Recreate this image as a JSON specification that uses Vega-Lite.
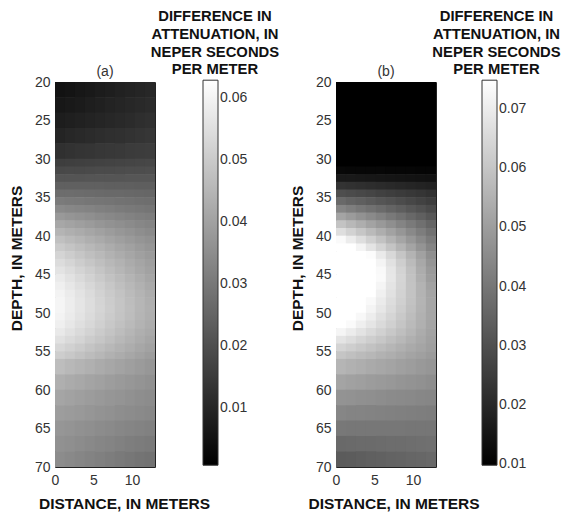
{
  "$schema": "https://vega.github.io/schema/vega-lite/v6.json",
  "padding": {"left": 8, "top": 8, "right": 4, "bottom": 2},
  "config": {
    "font": "Liberation Sans",
    "view": {"stroke": "#222222", "strokeWidth": 1},
    "axis": {"grid": false, "ticks": false, "domain": false, "labelFontSize": 14, "labelColor": "#333333", "labelPadding": 5, "titleFontSize": 15.5, "titleFontWeight": "bold", "titleColor": "#111111"},
    "legend": {"titleFontSize": 14.8, "titleFontWeight": "bold", "titleColor": "#111111", "titleAlign": "center", "titleAnchor": "middle", "titleLineHeight": 17.8, "titlePadding": 3, "titleLimit": 300, "labelFontSize": 14, "labelColor": "#333333", "labelOffset": 4, "gradientStrokeColor": "#333333", "gradientStrokeWidth": 1, "padding": 0},
    "title": {"fontSize": 14, "fontWeight": "normal", "color": "#333333"}
  },
  "datasets": {
    "a": [
      {"x":0.65,"d0":20,"d1":22,"v":0.0050},{"x":1.95,"d0":20,"d1":22,"v":0.0056},{"x":3.25,"d0":20,"d1":22,"v":0.0062},{"x":4.55,"d0":20,"d1":22,"v":0.0069},{"x":5.85,"d0":20,"d1":22,"v":0.0075},{"x":7.15,"d0":20,"d1":22,"v":0.0081},{"x":8.45,"d0":20,"d1":22,"v":0.0087},{"x":9.75,"d0":20,"d1":22,"v":0.0092},{"x":11.05,"d0":20,"d1":22,"v":0.0098},{"x":12.35,"d0":20,"d1":22,"v":0.0103},
      {"x":0.65,"d0":22,"d1":24,"v":0.0063},{"x":1.95,"d0":22,"d1":24,"v":0.0068},{"x":3.25,"d0":22,"d1":24,"v":0.0074},{"x":4.55,"d0":22,"d1":24,"v":0.0080},{"x":5.85,"d0":22,"d1":24,"v":0.0086},{"x":7.15,"d0":22,"d1":24,"v":0.0092},{"x":8.45,"d0":22,"d1":24,"v":0.0097},{"x":9.75,"d0":22,"d1":24,"v":0.0102},{"x":11.05,"d0":22,"d1":24,"v":0.0108},{"x":12.35,"d0":22,"d1":24,"v":0.0112},
      {"x":0.65,"d0":24,"d1":26,"v":0.0077},{"x":1.95,"d0":24,"d1":26,"v":0.0082},{"x":3.25,"d0":24,"d1":26,"v":0.0087},{"x":4.55,"d0":24,"d1":26,"v":0.0093},{"x":5.85,"d0":24,"d1":26,"v":0.0098},{"x":7.15,"d0":24,"d1":26,"v":0.0103},{"x":8.45,"d0":24,"d1":26,"v":0.0108},{"x":9.75,"d0":24,"d1":26,"v":0.0113},{"x":11.05,"d0":24,"d1":26,"v":0.0118},{"x":12.35,"d0":24,"d1":26,"v":0.0123},
      {"x":0.65,"d0":26,"d1":28,"v":0.0096},{"x":1.95,"d0":26,"d1":28,"v":0.0101},{"x":3.25,"d0":26,"d1":28,"v":0.0106},{"x":4.55,"d0":26,"d1":28,"v":0.0111},{"x":5.85,"d0":26,"d1":28,"v":0.0116},{"x":7.15,"d0":26,"d1":28,"v":0.0121},{"x":8.45,"d0":26,"d1":28,"v":0.0125},{"x":9.75,"d0":26,"d1":28,"v":0.0129},{"x":11.05,"d0":26,"d1":28,"v":0.0134},{"x":12.35,"d0":26,"d1":28,"v":0.0138},
      {"x":0.65,"d0":28,"d1":30,"v":0.0125},{"x":1.95,"d0":28,"d1":30,"v":0.0129},{"x":3.25,"d0":28,"d1":30,"v":0.0133},{"x":4.55,"d0":28,"d1":30,"v":0.0136},{"x":5.85,"d0":28,"d1":30,"v":0.0140},{"x":7.15,"d0":28,"d1":30,"v":0.0144},{"x":8.45,"d0":28,"d1":30,"v":0.0147},{"x":9.75,"d0":28,"d1":30,"v":0.0150},{"x":11.05,"d0":28,"d1":30,"v":0.0154},{"x":12.35,"d0":28,"d1":30,"v":0.0157},
      {"x":0.65,"d0":30,"d1":31,"v":0.0158},{"x":1.95,"d0":30,"d1":31,"v":0.0160},{"x":3.25,"d0":30,"d1":31,"v":0.0163},{"x":4.55,"d0":30,"d1":31,"v":0.0165},{"x":5.85,"d0":30,"d1":31,"v":0.0168},{"x":7.15,"d0":30,"d1":31,"v":0.0170},{"x":8.45,"d0":30,"d1":31,"v":0.0173},{"x":9.75,"d0":30,"d1":31,"v":0.0175},{"x":11.05,"d0":30,"d1":31,"v":0.0178},{"x":12.35,"d0":30,"d1":31,"v":0.0180},
      {"x":0.65,"d0":31,"d1":32,"v":0.0183},{"x":1.95,"d0":31,"d1":32,"v":0.0185},{"x":3.25,"d0":31,"d1":32,"v":0.0186},{"x":4.55,"d0":31,"d1":32,"v":0.0188},{"x":5.85,"d0":31,"d1":32,"v":0.0190},{"x":7.15,"d0":31,"d1":32,"v":0.0191},{"x":8.45,"d0":31,"d1":32,"v":0.0193},{"x":9.75,"d0":31,"d1":32,"v":0.0194},{"x":11.05,"d0":31,"d1":32,"v":0.0196},{"x":12.35,"d0":31,"d1":32,"v":0.0197},
      {"x":0.65,"d0":32,"d1":33,"v":0.0212},{"x":1.95,"d0":32,"d1":33,"v":0.0213},{"x":3.25,"d0":32,"d1":33,"v":0.0213},{"x":4.55,"d0":32,"d1":33,"v":0.0214},{"x":5.85,"d0":32,"d1":33,"v":0.0214},{"x":7.15,"d0":32,"d1":33,"v":0.0215},{"x":8.45,"d0":32,"d1":33,"v":0.0215},{"x":9.75,"d0":32,"d1":33,"v":0.0216},{"x":11.05,"d0":32,"d1":33,"v":0.0216},{"x":12.35,"d0":32,"d1":33,"v":0.0217},
      {"x":0.65,"d0":33,"d1":34,"v":0.0242},{"x":1.95,"d0":33,"d1":34,"v":0.0242},{"x":3.25,"d0":33,"d1":34,"v":0.0241},{"x":4.55,"d0":33,"d1":34,"v":0.0240},{"x":5.85,"d0":33,"d1":34,"v":0.0240},{"x":7.15,"d0":33,"d1":34,"v":0.0239},{"x":8.45,"d0":33,"d1":34,"v":0.0238},{"x":9.75,"d0":33,"d1":34,"v":0.0238},{"x":11.05,"d0":33,"d1":34,"v":0.0237},{"x":12.35,"d0":33,"d1":34,"v":0.0237},
      {"x":0.65,"d0":34,"d1":35,"v":0.0274},{"x":1.95,"d0":34,"d1":35,"v":0.0272},{"x":3.25,"d0":34,"d1":35,"v":0.0270},{"x":4.55,"d0":34,"d1":35,"v":0.0268},{"x":5.85,"d0":34,"d1":35,"v":0.0266},{"x":7.15,"d0":34,"d1":35,"v":0.0264},{"x":8.45,"d0":34,"d1":35,"v":0.0262},{"x":9.75,"d0":34,"d1":35,"v":0.0260},{"x":11.05,"d0":34,"d1":35,"v":0.0258},{"x":12.35,"d0":34,"d1":35,"v":0.0256},
      {"x":0.65,"d0":35,"d1":36,"v":0.0307},{"x":1.95,"d0":35,"d1":36,"v":0.0303},{"x":3.25,"d0":35,"d1":36,"v":0.0300},{"x":4.55,"d0":35,"d1":36,"v":0.0296},{"x":5.85,"d0":35,"d1":36,"v":0.0292},{"x":7.15,"d0":35,"d1":36,"v":0.0289},{"x":8.45,"d0":35,"d1":36,"v":0.0285},{"x":9.75,"d0":35,"d1":36,"v":0.0282},{"x":11.05,"d0":35,"d1":36,"v":0.0278},{"x":12.35,"d0":35,"d1":36,"v":0.0275},
      {"x":0.65,"d0":36,"d1":37,"v":0.0343},{"x":1.95,"d0":36,"d1":37,"v":0.0337},{"x":3.25,"d0":36,"d1":37,"v":0.0332},{"x":4.55,"d0":36,"d1":37,"v":0.0326},{"x":5.85,"d0":36,"d1":37,"v":0.0320},{"x":7.15,"d0":36,"d1":37,"v":0.0314},{"x":8.45,"d0":36,"d1":37,"v":0.0308},{"x":9.75,"d0":36,"d1":37,"v":0.0303},{"x":11.05,"d0":36,"d1":37,"v":0.0298},{"x":12.35,"d0":36,"d1":37,"v":0.0293},
      {"x":0.65,"d0":37,"d1":38,"v":0.0379},{"x":1.95,"d0":37,"d1":38,"v":0.0371},{"x":3.25,"d0":37,"d1":38,"v":0.0363},{"x":4.55,"d0":37,"d1":38,"v":0.0355},{"x":5.85,"d0":37,"d1":38,"v":0.0347},{"x":7.15,"d0":37,"d1":38,"v":0.0339},{"x":8.45,"d0":37,"d1":38,"v":0.0332},{"x":9.75,"d0":37,"d1":38,"v":0.0324},{"x":11.05,"d0":37,"d1":38,"v":0.0317},{"x":12.35,"d0":37,"d1":38,"v":0.0311},
      {"x":0.65,"d0":38,"d1":39,"v":0.0415},{"x":1.95,"d0":38,"d1":39,"v":0.0405},{"x":3.25,"d0":38,"d1":39,"v":0.0395},{"x":4.55,"d0":38,"d1":39,"v":0.0385},{"x":5.85,"d0":38,"d1":39,"v":0.0374},{"x":7.15,"d0":38,"d1":39,"v":0.0364},{"x":8.45,"d0":38,"d1":39,"v":0.0355},{"x":9.75,"d0":38,"d1":39,"v":0.0346},{"x":11.05,"d0":38,"d1":39,"v":0.0337},{"x":12.35,"d0":38,"d1":39,"v":0.0328},
      {"x":0.65,"d0":39,"d1":40,"v":0.0447},{"x":1.95,"d0":39,"d1":40,"v":0.0435},{"x":3.25,"d0":39,"d1":40,"v":0.0423},{"x":4.55,"d0":39,"d1":40,"v":0.0411},{"x":5.85,"d0":39,"d1":40,"v":0.0399},{"x":7.15,"d0":39,"d1":40,"v":0.0387},{"x":8.45,"d0":39,"d1":40,"v":0.0376},{"x":9.75,"d0":39,"d1":40,"v":0.0365},{"x":11.05,"d0":39,"d1":40,"v":0.0354},{"x":12.35,"d0":39,"d1":40,"v":0.0344},
      {"x":0.65,"d0":40,"d1":41,"v":0.0475},{"x":1.95,"d0":40,"d1":41,"v":0.0461},{"x":3.25,"d0":40,"d1":41,"v":0.0448},{"x":4.55,"d0":40,"d1":41,"v":0.0434},{"x":5.85,"d0":40,"d1":41,"v":0.0421},{"x":7.15,"d0":40,"d1":41,"v":0.0407},{"x":8.45,"d0":40,"d1":41,"v":0.0395},{"x":9.75,"d0":40,"d1":41,"v":0.0383},{"x":11.05,"d0":40,"d1":41,"v":0.0371},{"x":12.35,"d0":40,"d1":41,"v":0.0360},
      {"x":0.65,"d0":41,"d1":42,"v":0.0500},{"x":1.95,"d0":41,"d1":42,"v":0.0485},{"x":3.25,"d0":41,"d1":42,"v":0.0470},{"x":4.55,"d0":41,"d1":42,"v":0.0455},{"x":5.85,"d0":41,"d1":42,"v":0.0441},{"x":7.15,"d0":41,"d1":42,"v":0.0426},{"x":8.45,"d0":41,"d1":42,"v":0.0412},{"x":9.75,"d0":41,"d1":42,"v":0.0399},{"x":11.05,"d0":41,"d1":42,"v":0.0385},{"x":12.35,"d0":41,"d1":42,"v":0.0373},
      {"x":0.65,"d0":42,"d1":43,"v":0.0523},{"x":1.95,"d0":42,"d1":43,"v":0.0507},{"x":3.25,"d0":42,"d1":43,"v":0.0490},{"x":4.55,"d0":42,"d1":43,"v":0.0474},{"x":5.85,"d0":42,"d1":43,"v":0.0458},{"x":7.15,"d0":42,"d1":43,"v":0.0442},{"x":8.45,"d0":42,"d1":43,"v":0.0427},{"x":9.75,"d0":42,"d1":43,"v":0.0412},{"x":11.05,"d0":42,"d1":43,"v":0.0397},{"x":12.35,"d0":42,"d1":43,"v":0.0384},
      {"x":0.65,"d0":43,"d1":44,"v":0.0543},{"x":1.95,"d0":43,"d1":44,"v":0.0526},{"x":3.25,"d0":43,"d1":44,"v":0.0508},{"x":4.55,"d0":43,"d1":44,"v":0.0491},{"x":5.85,"d0":43,"d1":44,"v":0.0474},{"x":7.15,"d0":43,"d1":44,"v":0.0456},{"x":8.45,"d0":43,"d1":44,"v":0.0440},{"x":9.75,"d0":43,"d1":44,"v":0.0424},{"x":11.05,"d0":43,"d1":44,"v":0.0409},{"x":12.35,"d0":43,"d1":44,"v":0.0394},
      {"x":0.65,"d0":44,"d1":45,"v":0.0561},{"x":1.95,"d0":44,"d1":45,"v":0.0543},{"x":3.25,"d0":44,"d1":45,"v":0.0524},{"x":4.55,"d0":44,"d1":45,"v":0.0506},{"x":5.85,"d0":44,"d1":45,"v":0.0487},{"x":7.15,"d0":44,"d1":45,"v":0.0469},{"x":8.45,"d0":44,"d1":45,"v":0.0452},{"x":9.75,"d0":44,"d1":45,"v":0.0435},{"x":11.05,"d0":44,"d1":45,"v":0.0418},{"x":12.35,"d0":44,"d1":45,"v":0.0403},
      {"x":0.65,"d0":45,"d1":46,"v":0.0577},{"x":1.95,"d0":45,"d1":46,"v":0.0558},{"x":3.25,"d0":45,"d1":46,"v":0.0538},{"x":4.55,"d0":45,"d1":46,"v":0.0519},{"x":5.85,"d0":45,"d1":46,"v":0.0500},{"x":7.15,"d0":45,"d1":46,"v":0.0481},{"x":8.45,"d0":45,"d1":46,"v":0.0463},{"x":9.75,"d0":45,"d1":46,"v":0.0446},{"x":11.05,"d0":45,"d1":46,"v":0.0428},{"x":12.35,"d0":45,"d1":46,"v":0.0413},
      {"x":0.65,"d0":46,"d1":47,"v":0.0590},{"x":1.95,"d0":46,"d1":47,"v":0.0571},{"x":3.25,"d0":46,"d1":47,"v":0.0551},{"x":4.55,"d0":46,"d1":47,"v":0.0531},{"x":5.85,"d0":46,"d1":47,"v":0.0512},{"x":7.15,"d0":46,"d1":47,"v":0.0492},{"x":8.45,"d0":46,"d1":47,"v":0.0474},{"x":9.75,"d0":46,"d1":47,"v":0.0456},{"x":11.05,"d0":46,"d1":47,"v":0.0438},{"x":12.35,"d0":46,"d1":47,"v":0.0422},
      {"x":0.65,"d0":47,"d1":48,"v":0.0599},{"x":1.95,"d0":47,"d1":48,"v":0.0579},{"x":3.25,"d0":47,"d1":48,"v":0.0560},{"x":4.55,"d0":47,"d1":48,"v":0.0540},{"x":5.85,"d0":47,"d1":48,"v":0.0520},{"x":7.15,"d0":47,"d1":48,"v":0.0500},{"x":8.45,"d0":47,"d1":48,"v":0.0482},{"x":9.75,"d0":47,"d1":48,"v":0.0464},{"x":11.05,"d0":47,"d1":48,"v":0.0446},{"x":12.35,"d0":47,"d1":48,"v":0.0430},
      {"x":0.65,"d0":48,"d1":49,"v":0.0604},{"x":1.95,"d0":48,"d1":49,"v":0.0584},{"x":3.25,"d0":48,"d1":49,"v":0.0565},{"x":4.55,"d0":48,"d1":49,"v":0.0545},{"x":5.85,"d0":48,"d1":49,"v":0.0525},{"x":7.15,"d0":48,"d1":49,"v":0.0505},{"x":8.45,"d0":48,"d1":49,"v":0.0487},{"x":9.75,"d0":48,"d1":49,"v":0.0469},{"x":11.05,"d0":48,"d1":49,"v":0.0451},{"x":12.35,"d0":48,"d1":49,"v":0.0434},
      {"x":0.65,"d0":49,"d1":50,"v":0.0604},{"x":1.95,"d0":49,"d1":50,"v":0.0585},{"x":3.25,"d0":49,"d1":50,"v":0.0565},{"x":4.55,"d0":49,"d1":50,"v":0.0545},{"x":5.85,"d0":49,"d1":50,"v":0.0526},{"x":7.15,"d0":49,"d1":50,"v":0.0506},{"x":8.45,"d0":49,"d1":50,"v":0.0488},{"x":9.75,"d0":49,"d1":50,"v":0.0470},{"x":11.05,"d0":49,"d1":50,"v":0.0452},{"x":12.35,"d0":49,"d1":50,"v":0.0436},
      {"x":0.65,"d0":50,"d1":51,"v":0.0599},{"x":1.95,"d0":50,"d1":51,"v":0.0580},{"x":3.25,"d0":50,"d1":51,"v":0.0561},{"x":4.55,"d0":50,"d1":51,"v":0.0541},{"x":5.85,"d0":50,"d1":51,"v":0.0522},{"x":7.15,"d0":50,"d1":51,"v":0.0502},{"x":8.45,"d0":50,"d1":51,"v":0.0485},{"x":9.75,"d0":50,"d1":51,"v":0.0467},{"x":11.05,"d0":50,"d1":51,"v":0.0449},{"x":12.35,"d0":50,"d1":51,"v":0.0433},
      {"x":0.65,"d0":51,"d1":52,"v":0.0590},{"x":1.95,"d0":51,"d1":52,"v":0.0571},{"x":3.25,"d0":51,"d1":52,"v":0.0552},{"x":4.55,"d0":51,"d1":52,"v":0.0533},{"x":5.85,"d0":51,"d1":52,"v":0.0514},{"x":7.15,"d0":51,"d1":52,"v":0.0495},{"x":8.45,"d0":51,"d1":52,"v":0.0478},{"x":9.75,"d0":51,"d1":52,"v":0.0461},{"x":11.05,"d0":51,"d1":52,"v":0.0444},{"x":12.35,"d0":51,"d1":52,"v":0.0428},
      {"x":0.65,"d0":52,"d1":53,"v":0.0576},{"x":1.95,"d0":52,"d1":53,"v":0.0557},{"x":3.25,"d0":52,"d1":53,"v":0.0539},{"x":4.55,"d0":52,"d1":53,"v":0.0521},{"x":5.85,"d0":52,"d1":53,"v":0.0503},{"x":7.15,"d0":52,"d1":53,"v":0.0485},{"x":8.45,"d0":52,"d1":53,"v":0.0468},{"x":9.75,"d0":52,"d1":53,"v":0.0452},{"x":11.05,"d0":52,"d1":53,"v":0.0435},{"x":12.35,"d0":52,"d1":53,"v":0.0421},
      {"x":0.65,"d0":53,"d1":54,"v":0.0556},{"x":1.95,"d0":53,"d1":54,"v":0.0539},{"x":3.25,"d0":53,"d1":54,"v":0.0523},{"x":4.55,"d0":53,"d1":54,"v":0.0505},{"x":5.85,"d0":53,"d1":54,"v":0.0489},{"x":7.15,"d0":53,"d1":54,"v":0.0472},{"x":8.45,"d0":53,"d1":54,"v":0.0456},{"x":9.75,"d0":53,"d1":54,"v":0.0441},{"x":11.05,"d0":53,"d1":54,"v":0.0426},{"x":12.35,"d0":53,"d1":54,"v":0.0412},
      {"x":0.65,"d0":54,"d1":55,"v":0.0532},{"x":1.95,"d0":54,"d1":55,"v":0.0517},{"x":3.25,"d0":54,"d1":55,"v":0.0502},{"x":4.55,"d0":54,"d1":55,"v":0.0486},{"x":5.85,"d0":54,"d1":55,"v":0.0471},{"x":7.15,"d0":54,"d1":55,"v":0.0456},{"x":8.45,"d0":54,"d1":55,"v":0.0442},{"x":9.75,"d0":54,"d1":55,"v":0.0428},{"x":11.05,"d0":54,"d1":55,"v":0.0414},{"x":12.35,"d0":54,"d1":55,"v":0.0402},
      {"x":0.65,"d0":55,"d1":56,"v":0.0507},{"x":1.95,"d0":55,"d1":56,"v":0.0494},{"x":3.25,"d0":55,"d1":56,"v":0.0480},{"x":4.55,"d0":55,"d1":56,"v":0.0466},{"x":5.85,"d0":55,"d1":56,"v":0.0453},{"x":7.15,"d0":55,"d1":56,"v":0.0439},{"x":8.45,"d0":55,"d1":56,"v":0.0427},{"x":9.75,"d0":55,"d1":56,"v":0.0415},{"x":11.05,"d0":55,"d1":56,"v":0.0403},{"x":12.35,"d0":55,"d1":56,"v":0.0391},
      {"x":0.65,"d0":56,"d1":58,"v":0.0468},{"x":1.95,"d0":56,"d1":58,"v":0.0457},{"x":3.25,"d0":56,"d1":58,"v":0.0447},{"x":4.55,"d0":56,"d1":58,"v":0.0436},{"x":5.85,"d0":56,"d1":58,"v":0.0425},{"x":7.15,"d0":56,"d1":58,"v":0.0414},{"x":8.45,"d0":56,"d1":58,"v":0.0404},{"x":9.75,"d0":56,"d1":58,"v":0.0395},{"x":11.05,"d0":56,"d1":58,"v":0.0385},{"x":12.35,"d0":56,"d1":58,"v":0.0376},
      {"x":0.65,"d0":58,"d1":60,"v":0.0434},{"x":1.95,"d0":58,"d1":60,"v":0.0425},{"x":3.25,"d0":58,"d1":60,"v":0.0417},{"x":4.55,"d0":58,"d1":60,"v":0.0408},{"x":5.85,"d0":58,"d1":60,"v":0.0399},{"x":7.15,"d0":58,"d1":60,"v":0.0391},{"x":8.45,"d0":58,"d1":60,"v":0.0383},{"x":9.75,"d0":58,"d1":60,"v":0.0375},{"x":11.05,"d0":58,"d1":60,"v":0.0367},{"x":12.35,"d0":58,"d1":60,"v":0.0360},
      {"x":0.65,"d0":60,"d1":62,"v":0.0410},{"x":1.95,"d0":60,"d1":62,"v":0.0403},{"x":3.25,"d0":60,"d1":62,"v":0.0396},{"x":4.55,"d0":60,"d1":62,"v":0.0388},{"x":5.85,"d0":60,"d1":62,"v":0.0381},{"x":7.15,"d0":60,"d1":62,"v":0.0374},{"x":8.45,"d0":60,"d1":62,"v":0.0367},{"x":9.75,"d0":60,"d1":62,"v":0.0360},{"x":11.05,"d0":60,"d1":62,"v":0.0354},{"x":12.35,"d0":60,"d1":62,"v":0.0348},
      {"x":0.65,"d0":62,"d1":64,"v":0.0391},{"x":1.95,"d0":62,"d1":64,"v":0.0385},{"x":3.25,"d0":62,"d1":64,"v":0.0379},{"x":4.55,"d0":62,"d1":64,"v":0.0373},{"x":5.85,"d0":62,"d1":64,"v":0.0366},{"x":7.15,"d0":62,"d1":64,"v":0.0360},{"x":8.45,"d0":62,"d1":64,"v":0.0354},{"x":9.75,"d0":62,"d1":64,"v":0.0349},{"x":11.05,"d0":62,"d1":64,"v":0.0343},{"x":12.35,"d0":62,"d1":64,"v":0.0338},
      {"x":0.65,"d0":64,"d1":66,"v":0.0373},{"x":1.95,"d0":64,"d1":66,"v":0.0367},{"x":3.25,"d0":64,"d1":66,"v":0.0361},{"x":4.55,"d0":64,"d1":66,"v":0.0355},{"x":5.85,"d0":64,"d1":66,"v":0.0349},{"x":7.15,"d0":64,"d1":66,"v":0.0343},{"x":8.45,"d0":64,"d1":66,"v":0.0337},{"x":9.75,"d0":64,"d1":66,"v":0.0331},{"x":11.05,"d0":64,"d1":66,"v":0.0326},{"x":12.35,"d0":64,"d1":66,"v":0.0321},
      {"x":0.65,"d0":66,"d1":68,"v":0.0361},{"x":1.95,"d0":66,"d1":68,"v":0.0355},{"x":3.25,"d0":66,"d1":68,"v":0.0348},{"x":4.55,"d0":66,"d1":68,"v":0.0341},{"x":5.85,"d0":66,"d1":68,"v":0.0334},{"x":7.15,"d0":66,"d1":68,"v":0.0328},{"x":8.45,"d0":66,"d1":68,"v":0.0322},{"x":9.75,"d0":66,"d1":68,"v":0.0315},{"x":11.05,"d0":66,"d1":68,"v":0.0309},{"x":12.35,"d0":66,"d1":68,"v":0.0304},
      {"x":0.65,"d0":68,"d1":70,"v":0.0349},{"x":1.95,"d0":68,"d1":70,"v":0.0342},{"x":3.25,"d0":68,"d1":70,"v":0.0334},{"x":4.55,"d0":68,"d1":70,"v":0.0327},{"x":5.85,"d0":68,"d1":70,"v":0.0319},{"x":7.15,"d0":68,"d1":70,"v":0.0312},{"x":8.45,"d0":68,"d1":70,"v":0.0305},{"x":9.75,"d0":68,"d1":70,"v":0.0298},{"x":11.05,"d0":68,"d1":70,"v":0.0291},{"x":12.35,"d0":68,"d1":70,"v":0.0285}
    ],
    "b": [
      {"x":0.65,"d0":20,"d1":31,"v":0.0090},{"x":1.95,"d0":20,"d1":31,"v":0.0090},{"x":3.25,"d0":20,"d1":31,"v":0.0090},{"x":4.55,"d0":20,"d1":31,"v":0.0090},{"x":5.85,"d0":20,"d1":31,"v":0.0090},{"x":7.15,"d0":20,"d1":31,"v":0.0090},{"x":8.45,"d0":20,"d1":31,"v":0.0090},{"x":9.75,"d0":20,"d1":31,"v":0.0090},{"x":11.05,"d0":20,"d1":31,"v":0.0090},{"x":12.35,"d0":20,"d1":31,"v":0.0090},
      {"x":0.65,"d0":31,"d1":32,"v":0.0118},{"x":1.95,"d0":31,"d1":32,"v":0.0117},{"x":3.25,"d0":31,"d1":32,"v":0.0116},{"x":4.55,"d0":31,"d1":32,"v":0.0116},{"x":5.85,"d0":31,"d1":32,"v":0.0115},{"x":7.15,"d0":31,"d1":32,"v":0.0114},{"x":8.45,"d0":31,"d1":32,"v":0.0113},{"x":9.75,"d0":31,"d1":32,"v":0.0113},{"x":11.05,"d0":31,"d1":32,"v":0.0112},{"x":12.35,"d0":31,"d1":32,"v":0.0111},
      {"x":0.65,"d0":32,"d1":33,"v":0.0163},{"x":1.95,"d0":32,"d1":33,"v":0.0161},{"x":3.25,"d0":32,"d1":33,"v":0.0159},{"x":4.55,"d0":32,"d1":33,"v":0.0156},{"x":5.85,"d0":32,"d1":33,"v":0.0154},{"x":7.15,"d0":32,"d1":33,"v":0.0152},{"x":8.45,"d0":32,"d1":33,"v":0.0149},{"x":9.75,"d0":32,"d1":33,"v":0.0147},{"x":11.05,"d0":32,"d1":33,"v":0.0145},{"x":12.35,"d0":32,"d1":33,"v":0.0142},
      {"x":0.65,"d0":33,"d1":34,"v":0.0228},{"x":1.95,"d0":33,"d1":34,"v":0.0223},{"x":3.25,"d0":33,"d1":34,"v":0.0218},{"x":4.55,"d0":33,"d1":34,"v":0.0213},{"x":5.85,"d0":33,"d1":34,"v":0.0208},{"x":7.15,"d0":33,"d1":34,"v":0.0203},{"x":8.45,"d0":33,"d1":34,"v":0.0197},{"x":9.75,"d0":33,"d1":34,"v":0.0192},{"x":11.05,"d0":33,"d1":34,"v":0.0187},{"x":12.35,"d0":33,"d1":34,"v":0.0182},
      {"x":0.65,"d0":34,"d1":35,"v":0.0298},{"x":1.95,"d0":34,"d1":35,"v":0.0290},{"x":3.25,"d0":34,"d1":35,"v":0.0282},{"x":4.55,"d0":34,"d1":35,"v":0.0273},{"x":5.85,"d0":34,"d1":35,"v":0.0265},{"x":7.15,"d0":34,"d1":35,"v":0.0257},{"x":8.45,"d0":34,"d1":35,"v":0.0249},{"x":9.75,"d0":34,"d1":35,"v":0.0241},{"x":11.05,"d0":34,"d1":35,"v":0.0233},{"x":12.35,"d0":34,"d1":35,"v":0.0224},
      {"x":0.65,"d0":35,"d1":36,"v":0.0365},{"x":1.95,"d0":35,"d1":36,"v":0.0352},{"x":3.25,"d0":35,"d1":36,"v":0.0340},{"x":4.55,"d0":35,"d1":36,"v":0.0328},{"x":5.85,"d0":35,"d1":36,"v":0.0316},{"x":7.15,"d0":35,"d1":36,"v":0.0304},{"x":8.45,"d0":35,"d1":36,"v":0.0291},{"x":9.75,"d0":35,"d1":36,"v":0.0279},{"x":11.05,"d0":35,"d1":36,"v":0.0267},{"x":12.35,"d0":35,"d1":36,"v":0.0255},
      {"x":0.65,"d0":36,"d1":37,"v":0.0437},{"x":1.95,"d0":36,"d1":37,"v":0.0420},{"x":3.25,"d0":36,"d1":37,"v":0.0403},{"x":4.55,"d0":36,"d1":37,"v":0.0387},{"x":5.85,"d0":36,"d1":37,"v":0.0370},{"x":7.15,"d0":36,"d1":37,"v":0.0354},{"x":8.45,"d0":36,"d1":37,"v":0.0337},{"x":9.75,"d0":36,"d1":37,"v":0.0320},{"x":11.05,"d0":36,"d1":37,"v":0.0304},{"x":12.35,"d0":36,"d1":37,"v":0.0287},
      {"x":0.65,"d0":37,"d1":38,"v":0.0516},{"x":1.95,"d0":37,"d1":38,"v":0.0494},{"x":3.25,"d0":37,"d1":38,"v":0.0472},{"x":4.55,"d0":37,"d1":38,"v":0.0451},{"x":5.85,"d0":37,"d1":38,"v":0.0429},{"x":7.15,"d0":37,"d1":38,"v":0.0407},{"x":8.45,"d0":37,"d1":38,"v":0.0386},{"x":9.75,"d0":37,"d1":38,"v":0.0364},{"x":11.05,"d0":37,"d1":38,"v":0.0342},{"x":12.35,"d0":37,"d1":38,"v":0.0320},
      {"x":0.65,"d0":38,"d1":39,"v":0.0595},{"x":1.95,"d0":38,"d1":39,"v":0.0568},{"x":3.25,"d0":38,"d1":39,"v":0.0542},{"x":4.55,"d0":38,"d1":39,"v":0.0515},{"x":5.85,"d0":38,"d1":39,"v":0.0489},{"x":7.15,"d0":38,"d1":39,"v":0.0462},{"x":8.45,"d0":38,"d1":39,"v":0.0436},{"x":9.75,"d0":38,"d1":39,"v":0.0409},{"x":11.05,"d0":38,"d1":39,"v":0.0383},{"x":12.35,"d0":38,"d1":39,"v":0.0356},
      {"x":0.65,"d0":39,"d1":40,"v":0.0666},{"x":1.95,"d0":39,"d1":40,"v":0.0635},{"x":3.25,"d0":39,"d1":40,"v":0.0604},{"x":4.55,"d0":39,"d1":40,"v":0.0573},{"x":5.85,"d0":39,"d1":40,"v":0.0542},{"x":7.15,"d0":39,"d1":40,"v":0.0511},{"x":8.45,"d0":39,"d1":40,"v":0.0480},{"x":9.75,"d0":39,"d1":40,"v":0.0449},{"x":11.05,"d0":39,"d1":40,"v":0.0418},{"x":12.35,"d0":39,"d1":40,"v":0.0386},
      {"x":0.65,"d0":40,"d1":41,"v":0.0736},{"x":1.95,"d0":40,"d1":41,"v":0.0700},{"x":3.25,"d0":40,"d1":41,"v":0.0664},{"x":4.55,"d0":40,"d1":41,"v":0.0628},{"x":5.85,"d0":40,"d1":41,"v":0.0592},{"x":7.15,"d0":40,"d1":41,"v":0.0556},{"x":8.45,"d0":40,"d1":41,"v":0.0520},{"x":9.75,"d0":40,"d1":41,"v":0.0484},{"x":11.05,"d0":40,"d1":41,"v":0.0448},{"x":12.35,"d0":40,"d1":41,"v":0.0412},
      {"x":0.65,"d0":41,"d1":42,"v":0.0750},{"x":1.95,"d0":41,"d1":42,"v":0.0750},{"x":3.25,"d0":41,"d1":42,"v":0.0722},{"x":4.55,"d0":41,"d1":42,"v":0.0681},{"x":5.85,"d0":41,"d1":42,"v":0.0640},{"x":7.15,"d0":41,"d1":42,"v":0.0599},{"x":8.45,"d0":41,"d1":42,"v":0.0558},{"x":9.75,"d0":41,"d1":42,"v":0.0517},{"x":11.05,"d0":41,"d1":42,"v":0.0476},{"x":12.35,"d0":41,"d1":42,"v":0.0435},
      {"x":0.65,"d0":42,"d1":43,"v":0.0750},{"x":1.95,"d0":42,"d1":43,"v":0.0750},{"x":3.25,"d0":42,"d1":43,"v":0.0750},{"x":4.55,"d0":42,"d1":43,"v":0.0741},{"x":5.85,"d0":42,"d1":43,"v":0.0695},{"x":7.15,"d0":42,"d1":43,"v":0.0649},{"x":8.45,"d0":42,"d1":43,"v":0.0602},{"x":9.75,"d0":42,"d1":43,"v":0.0556},{"x":11.05,"d0":42,"d1":43,"v":0.0509},{"x":12.35,"d0":42,"d1":43,"v":0.0463},
      {"x":0.65,"d0":43,"d1":44,"v":0.0750},{"x":1.95,"d0":43,"d1":44,"v":0.0750},{"x":3.25,"d0":43,"d1":44,"v":0.0750},{"x":4.55,"d0":43,"d1":44,"v":0.0750},{"x":5.85,"d0":43,"d1":44,"v":0.0721},{"x":7.15,"d0":43,"d1":44,"v":0.0673},{"x":8.45,"d0":43,"d1":44,"v":0.0625},{"x":9.75,"d0":43,"d1":44,"v":0.0576},{"x":11.05,"d0":43,"d1":44,"v":0.0528},{"x":12.35,"d0":43,"d1":44,"v":0.0479},
      {"x":0.65,"d0":44,"d1":45,"v":0.0750},{"x":1.95,"d0":44,"d1":45,"v":0.0750},{"x":3.25,"d0":44,"d1":45,"v":0.0750},{"x":4.55,"d0":44,"d1":45,"v":0.0750},{"x":5.85,"d0":44,"d1":45,"v":0.0733},{"x":7.15,"d0":44,"d1":45,"v":0.0685},{"x":8.45,"d0":44,"d1":45,"v":0.0636},{"x":9.75,"d0":44,"d1":45,"v":0.0587},{"x":11.05,"d0":44,"d1":45,"v":0.0538},{"x":12.35,"d0":44,"d1":45,"v":0.0490},
      {"x":0.65,"d0":45,"d1":46,"v":0.0750},{"x":1.95,"d0":45,"d1":46,"v":0.0750},{"x":3.25,"d0":45,"d1":46,"v":0.0750},{"x":4.55,"d0":45,"d1":46,"v":0.0750},{"x":5.85,"d0":45,"d1":46,"v":0.0735},{"x":7.15,"d0":45,"d1":46,"v":0.0688},{"x":8.45,"d0":45,"d1":46,"v":0.0641},{"x":9.75,"d0":45,"d1":46,"v":0.0593},{"x":11.05,"d0":45,"d1":46,"v":0.0546},{"x":12.35,"d0":45,"d1":46,"v":0.0499},
      {"x":0.65,"d0":46,"d1":47,"v":0.0750},{"x":1.95,"d0":46,"d1":47,"v":0.0750},{"x":3.25,"d0":46,"d1":47,"v":0.0750},{"x":4.55,"d0":46,"d1":47,"v":0.0750},{"x":5.85,"d0":46,"d1":47,"v":0.0724},{"x":7.15,"d0":46,"d1":47,"v":0.0681},{"x":8.45,"d0":46,"d1":47,"v":0.0639},{"x":9.75,"d0":46,"d1":47,"v":0.0597},{"x":11.05,"d0":46,"d1":47,"v":0.0554},{"x":12.35,"d0":46,"d1":47,"v":0.0512},
      {"x":0.65,"d0":47,"d1":48,"v":0.0750},{"x":1.95,"d0":47,"d1":48,"v":0.0750},{"x":3.25,"d0":47,"d1":48,"v":0.0750},{"x":4.55,"d0":47,"d1":48,"v":0.0750},{"x":5.85,"d0":47,"d1":48,"v":0.0710},{"x":7.15,"d0":47,"d1":48,"v":0.0672},{"x":8.45,"d0":47,"d1":48,"v":0.0633},{"x":9.75,"d0":47,"d1":48,"v":0.0595},{"x":11.05,"d0":47,"d1":48,"v":0.0556},{"x":12.35,"d0":47,"d1":48,"v":0.0518},
      {"x":0.65,"d0":48,"d1":49,"v":0.0750},{"x":1.95,"d0":48,"d1":49,"v":0.0750},{"x":3.25,"d0":48,"d1":49,"v":0.0750},{"x":4.55,"d0":48,"d1":49,"v":0.0734},{"x":5.85,"d0":48,"d1":49,"v":0.0699},{"x":7.15,"d0":48,"d1":49,"v":0.0663},{"x":8.45,"d0":48,"d1":49,"v":0.0628},{"x":9.75,"d0":48,"d1":49,"v":0.0592},{"x":11.05,"d0":48,"d1":49,"v":0.0557},{"x":12.35,"d0":48,"d1":49,"v":0.0521},
      {"x":0.65,"d0":49,"d1":50,"v":0.0750},{"x":1.95,"d0":49,"d1":50,"v":0.0750},{"x":3.25,"d0":49,"d1":50,"v":0.0750},{"x":4.55,"d0":49,"d1":50,"v":0.0720},{"x":5.85,"d0":49,"d1":50,"v":0.0687},{"x":7.15,"d0":49,"d1":50,"v":0.0654},{"x":8.45,"d0":49,"d1":50,"v":0.0621},{"x":9.75,"d0":49,"d1":50,"v":0.0588},{"x":11.05,"d0":49,"d1":50,"v":0.0555},{"x":12.35,"d0":49,"d1":50,"v":0.0523},
      {"x":0.65,"d0":50,"d1":51,"v":0.0750},{"x":1.95,"d0":50,"d1":51,"v":0.0750},{"x":3.25,"d0":50,"d1":51,"v":0.0732},{"x":4.55,"d0":50,"d1":51,"v":0.0702},{"x":5.85,"d0":50,"d1":51,"v":0.0671},{"x":7.15,"d0":50,"d1":51,"v":0.0641},{"x":8.45,"d0":50,"d1":51,"v":0.0611},{"x":9.75,"d0":50,"d1":51,"v":0.0581},{"x":11.05,"d0":50,"d1":51,"v":0.0551},{"x":12.35,"d0":50,"d1":51,"v":0.0521},
      {"x":0.65,"d0":51,"d1":52,"v":0.0750},{"x":1.95,"d0":51,"d1":52,"v":0.0736},{"x":3.25,"d0":51,"d1":52,"v":0.0709},{"x":4.55,"d0":51,"d1":52,"v":0.0682},{"x":5.85,"d0":51,"d1":52,"v":0.0655},{"x":7.15,"d0":51,"d1":52,"v":0.0628},{"x":8.45,"d0":51,"d1":52,"v":0.0601},{"x":9.75,"d0":51,"d1":52,"v":0.0574},{"x":11.05,"d0":51,"d1":52,"v":0.0547},{"x":12.35,"d0":51,"d1":52,"v":0.0520},
      {"x":0.65,"d0":52,"d1":53,"v":0.0724},{"x":1.95,"d0":52,"d1":53,"v":0.0701},{"x":3.25,"d0":52,"d1":53,"v":0.0678},{"x":4.55,"d0":52,"d1":53,"v":0.0654},{"x":5.85,"d0":52,"d1":53,"v":0.0631},{"x":7.15,"d0":52,"d1":53,"v":0.0608},{"x":8.45,"d0":52,"d1":53,"v":0.0585},{"x":9.75,"d0":52,"d1":53,"v":0.0562},{"x":11.05,"d0":52,"d1":53,"v":0.0538},{"x":12.35,"d0":52,"d1":53,"v":0.0515},
      {"x":0.65,"d0":53,"d1":54,"v":0.0680},{"x":1.95,"d0":53,"d1":54,"v":0.0661},{"x":3.25,"d0":53,"d1":54,"v":0.0642},{"x":4.55,"d0":53,"d1":54,"v":0.0624},{"x":5.85,"d0":53,"d1":54,"v":0.0605},{"x":7.15,"d0":53,"d1":54,"v":0.0586},{"x":8.45,"d0":53,"d1":54,"v":0.0567},{"x":9.75,"d0":53,"d1":54,"v":0.0548},{"x":11.05,"d0":53,"d1":54,"v":0.0529},{"x":12.35,"d0":53,"d1":54,"v":0.0510},
      {"x":0.65,"d0":54,"d1":55,"v":0.0639},{"x":1.95,"d0":54,"d1":55,"v":0.0624},{"x":3.25,"d0":54,"d1":55,"v":0.0609},{"x":4.55,"d0":54,"d1":55,"v":0.0594},{"x":5.85,"d0":54,"d1":55,"v":0.0579},{"x":7.15,"d0":54,"d1":55,"v":0.0563},{"x":8.45,"d0":54,"d1":55,"v":0.0548},{"x":9.75,"d0":54,"d1":55,"v":0.0533},{"x":11.05,"d0":54,"d1":55,"v":0.0518},{"x":12.35,"d0":54,"d1":55,"v":0.0503},
      {"x":0.65,"d0":55,"d1":56,"v":0.0600},{"x":1.95,"d0":55,"d1":56,"v":0.0588},{"x":3.25,"d0":55,"d1":56,"v":0.0576},{"x":4.55,"d0":55,"d1":56,"v":0.0564},{"x":5.85,"d0":55,"d1":56,"v":0.0553},{"x":7.15,"d0":55,"d1":56,"v":0.0541},{"x":8.45,"d0":55,"d1":56,"v":0.0529},{"x":9.75,"d0":55,"d1":56,"v":0.0517},{"x":11.05,"d0":55,"d1":56,"v":0.0506},{"x":12.35,"d0":55,"d1":56,"v":0.0494},
      {"x":0.65,"d0":56,"d1":58,"v":0.0560},{"x":1.95,"d0":56,"d1":58,"v":0.0551},{"x":3.25,"d0":56,"d1":58,"v":0.0542},{"x":4.55,"d0":56,"d1":58,"v":0.0533},{"x":5.85,"d0":56,"d1":58,"v":0.0525},{"x":7.15,"d0":56,"d1":58,"v":0.0516},{"x":8.45,"d0":56,"d1":58,"v":0.0507},{"x":9.75,"d0":56,"d1":58,"v":0.0498},{"x":11.05,"d0":56,"d1":58,"v":0.0489},{"x":12.35,"d0":56,"d1":58,"v":0.0480},
      {"x":0.65,"d0":58,"d1":60,"v":0.0516},{"x":1.95,"d0":58,"d1":60,"v":0.0510},{"x":3.25,"d0":58,"d1":60,"v":0.0503},{"x":4.55,"d0":58,"d1":60,"v":0.0497},{"x":5.85,"d0":58,"d1":60,"v":0.0491},{"x":7.15,"d0":58,"d1":60,"v":0.0485},{"x":8.45,"d0":58,"d1":60,"v":0.0479},{"x":9.75,"d0":58,"d1":60,"v":0.0473},{"x":11.05,"d0":58,"d1":60,"v":0.0467},{"x":12.35,"d0":58,"d1":60,"v":0.0461},
      {"x":0.65,"d0":60,"d1":62,"v":0.0473},{"x":1.95,"d0":60,"d1":62,"v":0.0470},{"x":3.25,"d0":60,"d1":62,"v":0.0466},{"x":4.55,"d0":60,"d1":62,"v":0.0462},{"x":5.85,"d0":60,"d1":62,"v":0.0458},{"x":7.15,"d0":60,"d1":62,"v":0.0454},{"x":8.45,"d0":60,"d1":62,"v":0.0451},{"x":9.75,"d0":60,"d1":62,"v":0.0447},{"x":11.05,"d0":60,"d1":62,"v":0.0443},{"x":12.35,"d0":60,"d1":62,"v":0.0439},
      {"x":0.65,"d0":62,"d1":64,"v":0.0439},{"x":1.95,"d0":62,"d1":64,"v":0.0436},{"x":3.25,"d0":62,"d1":64,"v":0.0434},{"x":4.55,"d0":62,"d1":64,"v":0.0432},{"x":5.85,"d0":62,"d1":64,"v":0.0429},{"x":7.15,"d0":62,"d1":64,"v":0.0427},{"x":8.45,"d0":62,"d1":64,"v":0.0425},{"x":9.75,"d0":62,"d1":64,"v":0.0422},{"x":11.05,"d0":62,"d1":64,"v":0.0420},{"x":12.35,"d0":62,"d1":64,"v":0.0418},
      {"x":0.65,"d0":64,"d1":66,"v":0.0404},{"x":1.95,"d0":64,"d1":66,"v":0.0403},{"x":3.25,"d0":64,"d1":66,"v":0.0403},{"x":4.55,"d0":64,"d1":66,"v":0.0402},{"x":5.85,"d0":64,"d1":66,"v":0.0402},{"x":7.15,"d0":64,"d1":66,"v":0.0401},{"x":8.45,"d0":64,"d1":66,"v":0.0401},{"x":9.75,"d0":64,"d1":66,"v":0.0400},{"x":11.05,"d0":64,"d1":66,"v":0.0400},{"x":12.35,"d0":64,"d1":66,"v":0.0399},
      {"x":0.65,"d0":66,"d1":68,"v":0.0367},{"x":1.95,"d0":66,"d1":68,"v":0.0368},{"x":3.25,"d0":66,"d1":68,"v":0.0370},{"x":4.55,"d0":66,"d1":68,"v":0.0372},{"x":5.85,"d0":66,"d1":68,"v":0.0374},{"x":7.15,"d0":66,"d1":68,"v":0.0376},{"x":8.45,"d0":66,"d1":68,"v":0.0377},{"x":9.75,"d0":66,"d1":68,"v":0.0379},{"x":11.05,"d0":66,"d1":68,"v":0.0381},{"x":12.35,"d0":66,"d1":68,"v":0.0383},
      {"x":0.65,"d0":68,"d1":70,"v":0.0330},{"x":1.95,"d0":68,"d1":70,"v":0.0334},{"x":3.25,"d0":68,"d1":70,"v":0.0338},{"x":4.55,"d0":68,"d1":70,"v":0.0342},{"x":5.85,"d0":68,"d1":70,"v":0.0346},{"x":7.15,"d0":68,"d1":70,"v":0.0350},{"x":8.45,"d0":68,"d1":70,"v":0.0354},{"x":9.75,"d0":68,"d1":70,"v":0.0358},{"x":11.05,"d0":68,"d1":70,"v":0.0362},{"x":12.35,"d0":68,"d1":70,"v":0.0366}
    ]
  },
  "hconcat": [
    {
      "width": 100,
      "height": 385,
      "data": {"name": "a"},
      "title": {"text": "(a)", "offset": -69.5},
      "mark": {"type": "rect", "width": 10.3, "yOffset": -0.3, "y2Offset": 0.3, "clip": true},
      "encoding": {
        "x": {"field": "x", "type": "quantitative", "scale": {"domain": [0, 13], "nice": false, "zero": false}, "axis": {"title": "DISTANCE, IN METERS", "values": [0, 5, 10], "labelFlush": false, "labelPadding": 6, "titlePadding": 9, "titleX": 69}},
        "y": {"field": "d0", "type": "quantitative", "scale": {"domain": [20, 70], "nice": false, "zero": false, "reverse": true}, "axis": {"title": "DEPTH, IN METERS", "values": [20, 25, 30, 35, 40, 45, 50, 55, 60, 65, 70], "titlePadding": 10, "titleY": 176}},
        "y2": {"field": "d1"},
        "color": {
          "field": "v", "type": "quantitative",
          "scale": {"domain": [0.0007, 0.0629], "range": ["#000000", "#ffffff"], "interpolate": "rgb", "clamp": true},
          "legend": {"title": ["DIFFERENCE IN", "ATTENUATION, IN", "NEPER SECONDS", "PER METER"], "orient": "none", "legendX": 96, "legendY": -73, "direction": "vertical", "gradientLength": 385, "gradientThickness": 15, "values": [0.01, 0.02, 0.03, 0.04, 0.05, 0.06], "format": ".2f", "encoding": {"title": {"dx": {"value": -10}}}}
        }
      }
    },
    {
      "width": 100,
      "height": 385,
      "data": {"name": "b"},
      "title": {"text": "(b)", "offset": -69.5},
      "mark": {"type": "rect", "width": 10.3, "yOffset": -0.3, "y2Offset": 0.3, "clip": true},
      "encoding": {
        "x": {"field": "x", "type": "quantitative", "scale": {"domain": [0, 13], "nice": false, "zero": false}, "axis": {"title": "DISTANCE, IN METERS", "values": [0, 5, 10], "labelFlush": false, "labelPadding": 6, "titlePadding": 9, "titleX": 57.5}},
        "y": {"field": "d0", "type": "quantitative", "scale": {"domain": [20, 70], "nice": false, "zero": false, "reverse": true}, "axis": {"title": "DEPTH, IN METERS", "values": [20, 25, 30, 35, 40, 45, 50, 55, 60, 65, 70], "titlePadding": 10, "titleY": 176}},
        "y2": {"field": "d1"},
        "color": {
          "field": "v", "type": "quantitative",
          "scale": {"domain": [0.0098, 0.0749], "range": ["#000000", "#ffffff"], "interpolate": "rgb", "clamp": true},
          "legend": {"title": ["DIFFERENCE IN", "ATTENUATION, IN", "NEPER SECONDS", "PER METER"], "orient": "none", "legendX": 96, "legendY": -73, "direction": "vertical", "gradientLength": 385, "gradientThickness": 15, "values": [0.01, 0.02, 0.03, 0.04, 0.05, 0.06, 0.07], "format": ".2f", "encoding": {"title": {"dx": {"value": -7.5}}}}
        }
      }
    }
  ],
  "spacing": 8,
  "resolve": {"scale": {"color": "independent"}, "legend": {"color": "independent"}}
}
